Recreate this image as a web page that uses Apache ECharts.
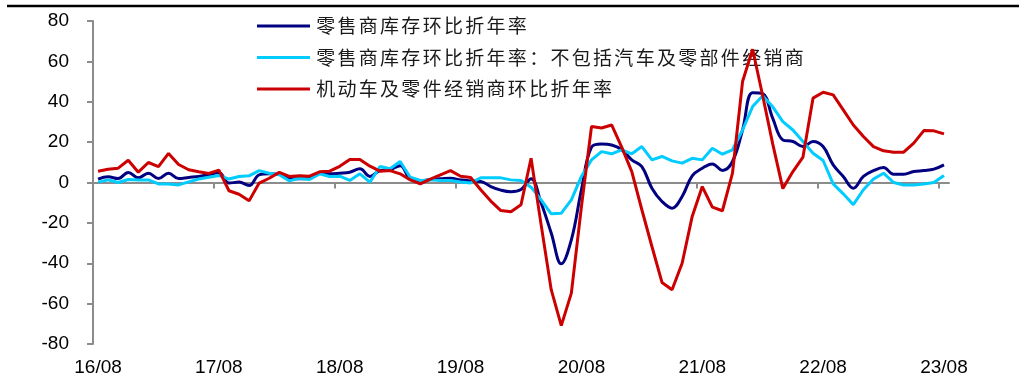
<!DOCTYPE html>
<html>
<head>
<meta charset="utf-8">
<script src="https://cdn.jsdelivr.net/npm/echarts@6/dist/echarts.min.js"></script>
<style>
  html, body { margin: 0; padding: 0; background: #fff; }
  #chart { width: 1027px; height: 385px; }
</style>
</head>
<body>
<div id="chart"></div>
<script>
// Monthly categories, 2016/08 – 2023/08
const months = [
  '16/08','16/09','16/10','16/11','16/12',
  '17/01','17/02','17/03','17/04','17/05','17/06','17/07','17/08','17/09','17/10','17/11','17/12',
  '18/01','18/02','18/03','18/04','18/05','18/06','18/07','18/08','18/09','18/10','18/11','18/12',
  '19/01','19/02','19/03','19/04','19/05','19/06','19/07','19/08','19/09','19/10','19/11','19/12',
  '20/01','20/02','20/03','20/04','20/05','20/06','20/07','20/08','20/09','20/10','20/11','20/12',
  '21/01','21/02','21/03','21/04','21/05','21/06','21/07','21/08','21/09','21/10','21/11','21/12',
  '22/01','22/02','22/03','22/04','22/05','22/06','22/07','22/08','22/09','22/10','22/11','22/12',
  '23/01','23/02','23/03','23/04','23/05','23/06','23/07','23/08'
];

const seriesNames = [
  '零售商库存环比折年率',
  '零售商库存环比折年率：不包括汽车及零部件经销商',
  '机动车及零件经销商环比折年率'
];

// Retail inventories, annualized m/m (%)
const retailAll = [
  1.7, 2.8, 2.0, 5.0, 2.3,
  4.6, 2.0, 4.6, 2.0, 2.5, 3.0, 3.8, 5.0, -0.3, 0.2, -1.5, 3.8,
  4.3, 4.1, 2.1, 1.8, 2.0, 4.6, 4.3, 4.6, 5.1, 6.8, 3.0, 5.9,
  6.4, 8.3, 1.8, 0.7, 1.5, 1.8, 2.1, 1.3, 0.7, 0.5, -2.0, -3.8,
  -4.6, -3.5, 1.8, -10.2, -25.0, -40.3, -28.4, -3.6, 17.5, 19.1, 18.6, 16.2,
  11.2, 7.9, -2.8, -9.4, -12.7, -6.9, 3.3, 7.1, 9.2, 6.0, 10.4, 26.0,
  44.5, 44.0, 31.8, 21.1, 20.3, 17.8, 20.3, 17.8, 8.7, 3.0, -2.8, 3.0,
  5.9, 7.4, 4.1, 4.1, 5.4, 5.9, 6.6, 8.7
];

// Retail inventories excluding motor vehicle & parts dealers (%)
const retailExAuto = [
  0.2, 1.3, 0.0, 1.5, 1.2,
  1.3, -0.7, -0.7, -1.2, 0.3, 1.7, 2.6, 3.5, 1.7, 3.0, 3.3, 5.9,
  4.6, 3.8, 0.8, 2.1, 1.5, 4.3, 3.0, 3.1, 1.0, 4.3, 0.2, 7.9,
  6.8, 10.4, 2.6, 1.0, 1.3, 1.0, 1.0, 0.2, -0.2, 2.3, 2.3, 2.3,
  1.3, 1.0, -2.3, -8.6, -15.5, -15.2, -8.6, 3.0, 11.2, 15.3, 14.2, 16.2,
  14.2, 17.8, 11.2, 12.9, 10.7, 9.6, 12.0, 11.2, 17.0, 14.0, 16.2, 26.0,
  37.6, 43.0, 37.5, 30.2, 26.0, 20.3, 14.5, 10.9, -0.7, -5.6, -11.0, -3.6,
  1.7, 4.6, 0.0, -1.2, -1.2, -0.7, 0.0, 3.5
];

// Motor vehicle & parts dealers, annualized m/m (%)
const autoDealers = [
  5.6, 6.6, 7.1, 11.0, 5.1,
  9.9, 7.9, 14.4, 8.9, 6.3, 5.3, 4.5, 6.1, -4.1, -5.8, -9.1, -0.3,
  2.1, 5.0, 3.0, 3.3, 3.1, 5.3, 5.6, 8.0, 11.4, 11.4, 8.1, 5.6,
  5.9, 4.3, 1.3, -0.7, 1.7, 3.8, 5.9, 3.1, 2.5, -3.6, -9.2, -13.9,
  -14.5, -11.0, 12.0, -21.0, -53.1, -70.9, -54.8, -12.0, 27.7, 27.0, 28.5, 17.5,
  5.4, -13.5, -31.7, -49.5, -53.1, -40.0, -16.8, -2.0, -12.2, -14.0, 4.6, 50.0,
  66.0, 43.0, 19.0, -3.0, 5.4, 12.6, 41.8, 44.7, 43.4, 36.0, 28.5, 22.8,
  17.8, 15.7, 15.0, 15.0, 19.5, 25.7, 25.6, 24.1
];

const yTicks = { min: -80, max: 80, step: 20 };

// month boundaries (one more than the months) for the zero baseline's year ticks
const monthEdges = months.map((m, k) => k).concat([months.length]);

const axisGray = '#8c8c8c';
const latinFont = '"Liberation Sans", Arial, sans-serif';
const cjkFont = '"Noto Sans CJK SC", sans-serif';

const chart = echarts.init(document.getElementById('chart'), null, { renderer: 'canvas' });

chart.setOption({
  animation: false,
  backgroundColor: '#ffffff',
  grid: { left: 93, right: 78, top: 21, bottom: 41, containLabel: false },
  legend: {
    orient: 'vertical',
    left: 257,
    top: 16,
    padding: 0,
    itemWidth: 53,
    itemHeight: 14,
    itemGap: 11.5,
    data: seriesNames.map(n => ({ name: n, icon: 'path://M0,0 L53,0 L53,3 L0,3 Z' })),
    formatter: name => name.split('').map(ch => '{c|' + ch + '}').join(''),
    textStyle: {
      color: '#1a1a1a',
      fontFamily: cjkFont,
      fontSize: 19,
      lineHeight: 20,
      rich: {
        c: { fontFamily: cjkFont, fontSize: 19, color: '#1a1a1a', padding: [0, 1.15, 0, 1.15], lineHeight: 20 }
      }
    }
  },
  graphic: [
    {
      type: 'line',
      shape: { x1: 7, y1: 6, x2: 1019, y2: 6 },
      style: { stroke: '#000', lineWidth: 2.6 },
      silent: true
    }
  ],
  xAxis: [
    {
      // month labels along the bottom edge
      type: 'category',
      data: months,
      position: 'bottom',
      boundaryGap: true,
      axisLine: { show: false, onZero: false },
      axisTick: { show: false },
      splitLine: { show: false },
      axisLabel: {
        interval: 11,
        margin: 14,
        fontFamily: latinFont,
        fontSize: 19,
        color: '#000'
      }
    },
    {
      // zero baseline with a tick at the start of each August
      type: 'category',
      data: monthEdges,
      position: 'bottom',
      boundaryGap: false,
      axisLine: { show: true, onZero: true, lineStyle: { color: axisGray, width: 2 } },
      axisTick: { show: true, interval: 11, length: 6, lineStyle: { color: axisGray, width: 2 } },
      axisLabel: { show: false },
      splitLine: { show: false }
    }
  ],
  yAxis: {
    type: 'value',
    min: yTicks.min,
    max: yTicks.max,
    interval: yTicks.step,
    axisLine: { show: true, lineStyle: { color: axisGray, width: 2 } },
    axisTick: { show: true, length: 6, lineStyle: { color: axisGray, width: 2 } },
    splitLine: { show: false },
    axisLabel: {
      margin: 24,
      fontFamily: latinFont,
      fontSize: 19,
      color: '#000'
    }
  },
  series: [
    {
      name: seriesNames[0],
      type: 'line',
      data: retailAll,
      symbol: 'none',
      smooth: 0.4,
      lineStyle: { color: '#000080', width: 3 },
      itemStyle: { color: '#000080' },
      z: 2
    },
    {
      name: seriesNames[1],
      type: 'line',
      data: retailExAuto,
      symbol: 'none',
      lineStyle: { color: '#00CCFF', width: 3 },
      itemStyle: { color: '#00CCFF' },
      z: 3
    },
    {
      name: seriesNames[2],
      type: 'line',
      data: autoDealers,
      symbol: 'none',
      lineStyle: { color: '#CC0000', width: 3 },
      itemStyle: { color: '#CC0000' },
      z: 4
    }
  ]
});
</script>
</body>
</html>
